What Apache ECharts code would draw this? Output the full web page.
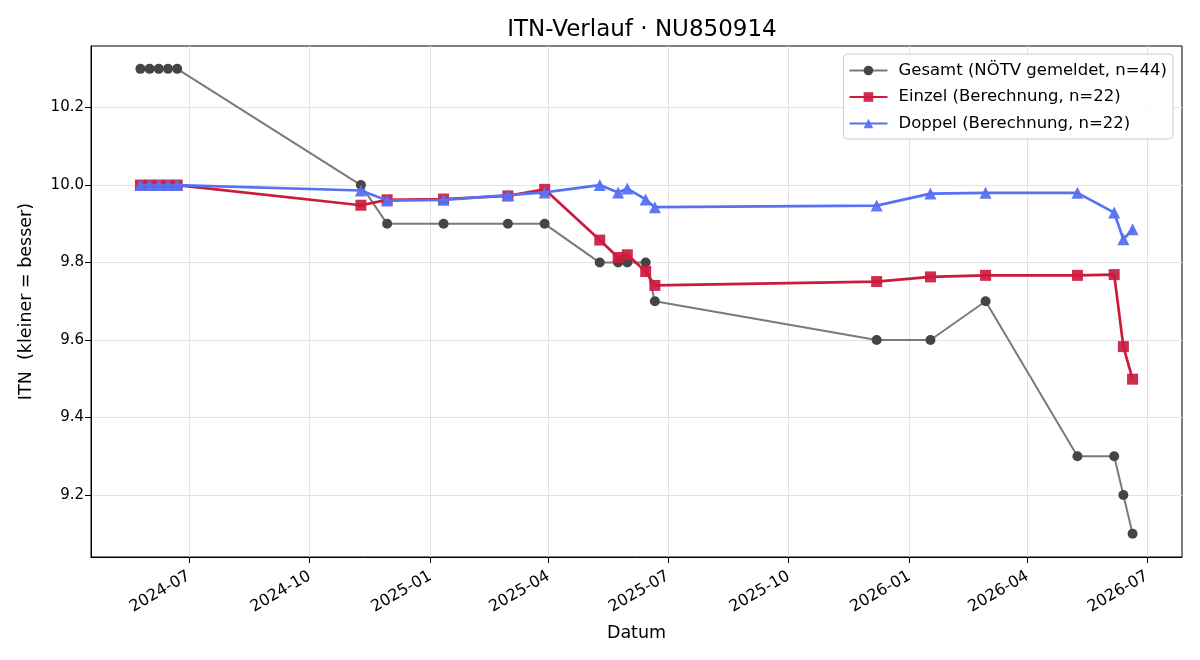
<!DOCTYPE html>
<html lang="de">
<head>
  <meta charset="UTF-8">
  <title>ITN-Verlauf</title>
  <script src="https://cdn.jsdelivr.net/npm/echarts@6/dist/echarts.min.js"></script>
  <style>
    html, body { margin: 0; padding: 0; background: #fff; }
    #main { width: 1200px; height: 660px; }
  </style>
</head>
<body>
<div id="main"></div>
<script>
  // Daten
  var dates = ['2024-05-25', '2024-06-01', '2024-06-08', '2024-06-15', '2024-06-22',
    '2024-11-09', '2024-11-29', '2025-01-11', '2025-03-01', '2025-03-29',
    '2025-05-10', '2025-05-24', '2025-05-31', '2025-06-14', '2025-06-21',
    '2025-12-07', '2026-01-17', '2026-02-28', '2026-05-09', '2026-06-06',
    '2026-06-13', '2026-06-20'];
  var gesamt = [10.3, 10.3, 10.3, 10.3, 10.3, 10.0, 9.9, 9.9, 9.9, 9.9,
    9.8, 9.8, 9.8, 9.8, 9.7, 9.6, 9.6, 9.7, 9.3, 9.3, 9.2, 9.1];
  var einzel = [10.0, 10.0, 10.0, 10.0, 10.0, 9.948, 9.962, 9.964, 9.972, 9.989,
    9.858, 9.813, 9.820, 9.777, 9.741, 9.751, 9.763, 9.767, 9.767, 9.769, 9.583, 9.499];
  var doppel = [10.0, 10.0, 10.0, 10.0, 10.0, 9.986, 9.960, 9.962, 9.974, 9.981,
    10.0, 9.981, 9.991, 9.963, 9.943, 9.947, 9.978, 9.980, 9.980, 9.929, 9.860, 9.886];

  var xTicks = ['2024-07-01', '2024-10-01', '2025-01-01', '2025-04-01', '2025-07-01',
    '2025-10-01', '2026-01-01', '2026-04-01', '2026-07-01'];
  var yTicks = [9.2, 9.4, 9.6, 9.8, 10.0, 10.2];
  var xRange = ['2024-04-17T08:00:00', '2026-07-27T16:00:00'];
  var yRange = [9.040, 10.359];

  var names = ['Gesamt (NÖTV gemeldet, n=44)', 'Einzel (Berechnung, n=22)', 'Doppel (Berechnung, n=22)'];

  function ts(s) {
    var p = s.split('T');
    var d = p[0].split('-');
    var t = (p[1] || '00:00:00').split(':');
    return Date.UTC(+d[0], +d[1] - 1, +d[2], +t[0], +t[1]);
  }
  function pairs(vals) {
    return dates.map(function (d, i) { return [ts(d), vals[i]]; });
  }
  function fmtMonth(v) {
    var d = new Date(v);
    var m = d.getUTCMonth() + 1;
    return d.getUTCFullYear() + '-' + (m < 10 ? '0' + m : m);
  }

  var font = 'DejaVu Sans';
  var xTickVals = xTicks.map(ts);

  var myChart = echarts.init(document.getElementById('main'));
  myChart.setOption({
    animation: false,
    textStyle: { fontFamily: font },
    title: {
      text: 'ITN-Verlauf · NU850914',
      left: 637,
      textAlign: 'center',
      top: 14,
      textStyle: { fontFamily: font, fontSize: 23, fontWeight: 'normal', color: '#000' }
    },
    legend: {
      orient: 'vertical',
      right: 27,
      top: 54,
      padding: [8, 6, 7, 5],
      itemGap: 9.5,
      itemWidth: 38,
      itemHeight: 12,
      backgroundColor: 'rgba(255,255,255,0.85)',
      borderColor: '#cccccc',
      borderWidth: 1,
      borderRadius: 4,
      data: names,
      textStyle: { fontFamily: font, fontSize: 16.5, color: '#000', padding: [0, 0, 0, 6] }
    },
    grid: {
      left: 91, right: 18, top: 46, bottom: 103,
      show: true, borderColor: '#000', borderWidth: 1
    },
    xAxis: {
      type: 'value',
      min: ts(xRange[0]),
      max: ts(xRange[1]),
      name: 'Datum',
      nameLocation: 'middle',
      nameGap: 67,
      nameTextStyle: { fontFamily: font, fontSize: 17.5, color: '#000' },
      axisLine: { show: true, lineStyle: { color: '#000', width: 1 } },
      axisTick: { show: true, customValues: xTickVals, length: 6, lineStyle: { color: '#000' } },
      axisLabel: {
        customValues: xTickVals,
        rotate: 30,
        margin: 18,
        fontSize: 16,
        color: '#000',
        fontFamily: font,
        formatter: fmtMonth
      },
      splitLine: { show: true, customValues: xTickVals, lineStyle: { color: '#e3e3e3', width: 1 } }
    },
    yAxis: {
      type: 'value',
      min: yRange[0],
      max: yRange[1],
      name: 'ITN  (kleiner = besser)',
      nameLocation: 'middle',
      nameGap: 56,
      nameTextStyle: { fontFamily: font, fontSize: 17.5, color: '#000' },
      axisLine: { show: true, lineStyle: { color: '#000', width: 1 } },
      axisTick: { show: true, customValues: yTicks, length: 6, lineStyle: { color: '#000' } },
      axisLabel: {
        customValues: yTicks,
        margin: 7,
        fontSize: 15,
        color: '#000',
        fontFamily: font,
        formatter: function (v) { return v.toFixed(1); }
      },
      splitLine: { show: true, customValues: yTicks, lineStyle: { color: '#e3e3e3', width: 1 } }
    },
    series: [
      {
        name: names[0],
        type: 'line',
        data: pairs(gesamt),
        symbol: 'circle',
        symbolSize: 10,
        lineStyle: { color: '#7a7a7a', width: 2 },
        itemStyle: { color: '#454545' },
        z: 2
      },
      {
        name: names[1],
        type: 'line',
        data: pairs(einzel),
        symbol: 'rect',
        symbolSize: 11,
        lineStyle: { color: '#cc1a3c', width: 2.7 },
        itemStyle: { color: '#cc1a3c', opacity: 0.92 },
        z: 3
      },
      {
        name: names[2],
        type: 'line',
        data: pairs(doppel),
        symbol: 'triangle',
        symbolSize: 12,
        lineStyle: { color: '#5672f2', width: 2.7 },
        itemStyle: { color: '#5672f2', opacity: 0.95 },
        z: 4
      }
    ]
  });
</script>
</body>
</html>
